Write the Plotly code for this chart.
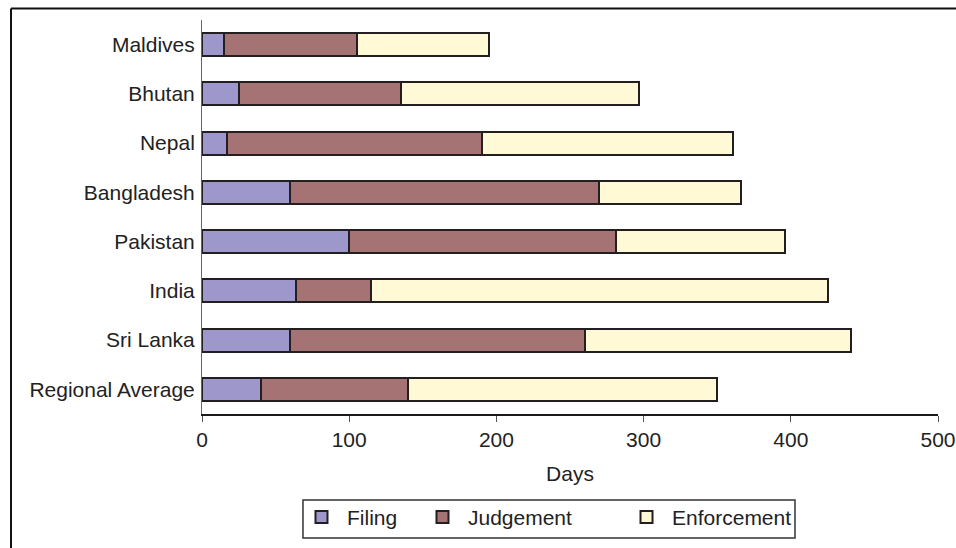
import plotly.graph_objects as go

# Days needed for each stage of contract enforcement, South Asia
countries = ["Maldives", "Bhutan", "Nepal", "Bangladesh", "Pakistan",
             "India", "Sri Lanka", "Regional Average"]
filing = [15, 25, 17, 60, 100, 64, 60, 40]
judgement = [90, 110, 173, 210, 181, 51, 200, 100]
enforcement = [90, 162, 171, 96, 115, 310, 181, 210]

x_ticks = [0, 100, 200, 300, 400, 500]

FONT = "Liberation Sans, Arial, sans-serif"
SIZE = 21
TEXT = "#222222"
OUTLINE = "#231f20"

series = [
    ("Filing", filing, "#9d97cb", "legend", 0.1277),
    ("Judgement", judgement, "#a67374", "legend2", 0.2921),
    ("Enforcement", enforcement, "#fff9d5", "legend3", 0.5693),
]

fig = go.Figure()
for name, vals, color, leg, _ in series:
    fig.add_trace(go.Bar(
        y=countries, x=vals, name=name, orientation="h",
        marker=dict(color=color, line=dict(color=OUTLINE, width=2)),
        legend=leg,
    ))

legend_common = dict(
    orientation="h", yanchor="middle", y=-0.262, xanchor="left",
    bgcolor="rgba(0,0,0,0)", borderwidth=0, itemwidth=41,
    font=dict(family=FONT, size=SIZE, color=TEXT),
)
legends = {}
for _, _, _, leg, lx in series:
    legends[leg] = dict(legend_common, x=lx)

fig.update_layout(
    width=956, height=548,
    margin=dict(l=202, r=18, t=20, b=134, autoexpand=False),
    paper_bgcolor="white", plot_bgcolor="white",
    barmode="stack", bargap=0.53,
    font=dict(family=FONT, size=SIZE, color=TEXT),
    showlegend=True,
    **legends,
    xaxis=dict(
        range=[0, 500], tickvals=x_ticks, ticktext=[str(v) for v in x_ticks],
        showgrid=False, zeroline=False,
        showline=True, linecolor="#1a1a1a", linewidth=1.5,
        ticks="outside", ticklen=6, tickcolor="#555555", tickwidth=1,
        tickfont=dict(family=FONT, size=SIZE, color=TEXT),
        title=dict(text="Days", font=dict(family=FONT, size=SIZE, color=TEXT),
                   standoff=16),
        automargin=False,
    ),
    yaxis=dict(
        categoryorder="array", categoryarray=countries, autorange="reversed",
        showgrid=False, zeroline=False,
        showline=True, linecolor="#666666", linewidth=1,
        ticks="outside", ticklen=2, tickcolor="rgba(0,0,0,0)",
        tickfont=dict(family=FONT, size=SIZE, color=TEXT),
        automargin=False,
    ),
)

# Outer frame (top and left edges) and the box around the legend
fig.add_shape(type="line", xref="paper", yref="paper",
              x0=-0.2595, x1=1.06, y0=1.0292, y1=1.0292,
              line=dict(color="#111111", width=2))
fig.add_shape(type="line", xref="paper", yref="paper",
              x0=-0.2595, x1=-0.2595, y0=1.0292, y1=-0.45,
              line=dict(color="#111111", width=2))
fig.add_shape(type="rect", xref="paper", yref="paper",
              x0=0.1372, x1=0.8057, y0=-0.3147, y1=-0.2183,
              line=dict(color="#333333", width=1.5), fillcolor="rgba(0,0,0,0)")

fig.write_html("out.html")
